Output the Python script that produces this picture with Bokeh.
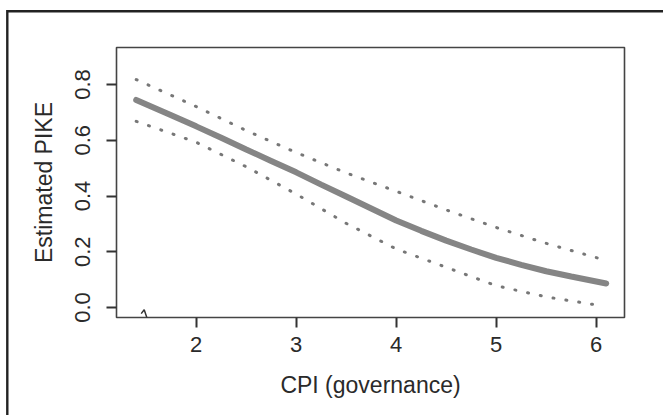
from bokeh.plotting import figure
from bokeh.models import FixedTicker, PrintfTickFormatter, Range1d
from bokeh.embed import file_html
from bokeh.resources import INLINE

# CPI (governance) values and estimated PIKE
cpi = [1.40, 1.75, 2.0, 2.25, 2.5, 2.75, 3.0, 3.25, 3.5, 3.75, 4.0,
       4.25, 4.5, 4.75, 5.0, 5.25, 5.5, 5.75, 6.1]
pike = [0.745, 0.690, 0.650, 0.609, 0.567, 0.526, 0.485, 0.441, 0.398, 0.355, 0.312,
        0.275, 0.240, 0.208, 0.178, 0.153, 0.130, 0.111, 0.086]

ci_x = [1.40, 2.0, 2.5, 3.0, 3.5, 4.0, 4.5, 5.0, 5.5, 6.02]
upper = [0.818, 0.721, 0.635, 0.556, 0.483, 0.417, 0.350, 0.287, 0.230, 0.177]
lower = [0.668, 0.593, 0.505, 0.407, 0.302, 0.210, 0.144, 0.078, 0.038, 0.008]

rug_x = [1.45, 1.48, 1.51]
rug_y = [-0.022, -0.008, -0.040]

x_ticks = [2, 3, 4, 5, 6]
y_ticks = [0.0, 0.2, 0.4, 0.6, 0.8]

p = figure(width=663, height=415, output_backend="svg", toolbar_location=None,
           x_range=Range1d(1.203, 6.283), y_range=Range1d(-0.036, 0.933),
           min_border_left=116, min_border_right=39, min_border_top=47,
           min_border_bottom=98,
           styles={"box-shadow": "inset 6.1px 10px 0px 0px #ffffff, "
                                 "inset 8.5px 12.4px 0px 0px #222222"})
p.background_fill_color = "white"
p.border_fill_color = "white"
p.border_fill_alpha = 0
p.outline_line_color = "#444444"
p.outline_line_width = 1.6
p.grid.visible = False

FONT = "Liberation Sans"
for ax in (p.xaxis, p.yaxis):
    ax.axis_line_color = None
    ax.major_tick_line_color = "#333333"
    ax.major_tick_line_width = 2
    ax.major_tick_out = 10
    ax.major_tick_in = 0
    ax.minor_tick_line_color = None
    ax.major_label_text_font = FONT
    ax.major_label_text_font_size = "22px"
    ax.major_label_text_color = "#2a2a2a"
    ax.axis_label_text_font = FONT
    ax.axis_label_text_font_size = "23px"
    ax.axis_label_text_font_style = "normal"
    ax.axis_label_text_color = "#2a2a2a"

p.xaxis.ticker = FixedTicker(ticks=x_ticks)
p.yaxis.ticker = FixedTicker(ticks=y_ticks)
p.yaxis.formatter = PrintfTickFormatter(format="%.1f")
p.yaxis.major_label_orientation = "vertical"
p.xaxis.axis_label = "CPI (governance)"
p.yaxis.axis_label = "Estimated PIKE"
p.xaxis.major_label_standoff = 9
p.xaxis.axis_label_standoff = 17
p.yaxis.major_label_standoff = 16
p.yaxis.axis_label_standoff = 16

p.line(ci_x, upper, line_color="#777777", line_width=3, line_dash="1 12", line_cap="round")
p.line(ci_x, lower, line_color="#777777", line_width=3, line_dash="1 12", line_cap="round")
p.line(cpi, pike, line_color="#858585", line_width=6, line_cap="round")
p.line(rug_x, rug_y, line_color="#333333", line_width=1.5)

open("out.html", "w").write(file_html(p, INLINE))
